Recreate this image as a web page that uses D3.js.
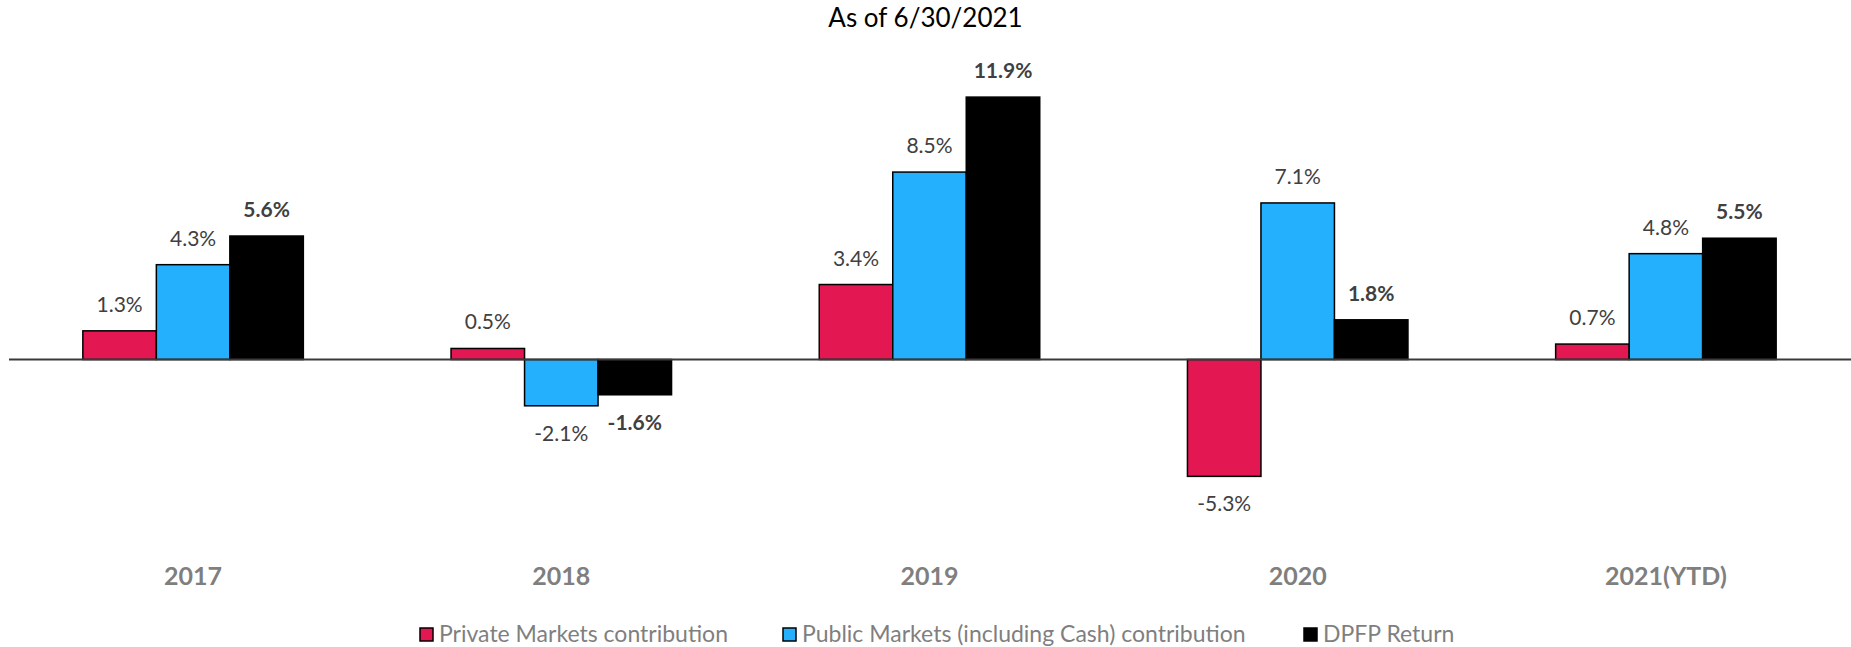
<!DOCTYPE html>
<html>
<head>
<meta charset="utf-8">
<script src="https://cdn.jsdelivr.net/npm/d3@7"></script>
<style>
  html, body { margin: 0; padding: 0; background: #fff; }
  svg { display: block; }
</style>
</head>
<body>
<svg id="chart" width="1851" height="647"></svg>
<script>
// Return contributions by year (percent)
const categories = ["2017", "2018", "2019", "2020", "2021(YTD)"];
const seriesNames = ["Private Markets contribution", "Public Markets (including Cash) contribution", "DPFP Return"];
const privateMarkets = [1.3, 0.5, 3.4, -5.3, 0.7];
const publicMarkets = [4.3, -2.1, 8.5, 7.1, 4.8];
const dpfpReturn = [5.6, -1.6, 11.9, 1.8, 5.5];
const titleText = "As of 6/30/2021";

const seriesValues = [privateMarkets, publicMarkets, dpfpReturn];
const colors = ["#E31752", "#25B0FD", "#000000"];
const boldLabel = [false, false, true];

const W = 1851, H = 647;
const svg = d3.select("#chart");

const x = d3.scaleBand().domain(categories).range([9, 1850]).paddingInner(0).paddingOuter(0);
const groupWidth = 220.5;
const xs = d3.scaleBand().domain(seriesNames).range([-groupWidth / 2, groupWidth / 2]).padding(0);
const y = d3.scaleLinear().domain([-8, 16]).range([359.5 + 8 * 22.05, 359.5 - 16 * 22.05]);

// title
svg.append("text")
  .attr("x", W / 2).attr("y", 27)
  .attr("text-anchor", "middle")
  .attr("font-family", "Lato, 'DejaVu Sans', sans-serif")
  .attr("font-size", 26)
  .attr("fill", "#000")
  .text(titleText);

// flatten data
const rows = [];
categories.forEach((c, i) => {
  seriesNames.forEach((s, j) => {
    rows.push({ cat: c, series: s, si: j, value: seriesValues[j][i] });
  });
});

const barCenter = d => x(d.cat) + x.bandwidth() / 2 + xs(d.series) + xs.bandwidth() / 2;

// bars
svg.append("g").selectAll("rect").data(rows).join("rect")
  .attr("x", d => x(d.cat) + x.bandwidth() / 2 + xs(d.series))
  .attr("width", xs.bandwidth())
  .attr("y", d => y(Math.max(0, d.value)))
  .attr("height", d => Math.abs(y(d.value) - y(0)))
  .attr("fill", d => colors[d.si])
  .attr("stroke", "#000")
  .attr("stroke-width", 1.5);

// zero line
svg.append("line")
  .attr("x1", 9).attr("x2", W)
  .attr("y1", y(0)).attr("y2", y(0))
  .attr("stroke", "#3a3a3a").attr("stroke-width", 2);

// value labels (plain hyphen for negatives)
svg.append("g").selectAll("text").data(rows).join("text")
  .attr("x", barCenter)
  .attr("y", d => d.value >= 0 ? y(d.value) - 19 : y(d.value) + 35)
  .attr("text-anchor", "middle")
  .attr("font-family", "Lato, 'DejaVu Sans', sans-serif")
  .attr("font-size", 21)
  .attr("font-weight", d => boldLabel[d.si] ? "bold" : "normal")
  .attr("fill", "#404040")
  .text(d => d.value.toFixed(1) + "%");

// category labels
svg.append("g").selectAll("text").data(categories).join("text")
  .attr("x", d => x(d) + x.bandwidth() / 2)
  .attr("y", 585)
  .attr("text-anchor", "middle")
  .attr("font-family", "Lato, 'DejaVu Sans', sans-serif")
  .attr("font-size", 25)
  .attr("font-weight", "bold")
  .attr("fill", "#7f7f7f")
  .text(d => d);

// legend
const legendX = [420, 783, 1304];
const legend = svg.append("g").selectAll("g").data(seriesNames).join("g")
  .attr("transform", (d, i) => `translate(${legendX[i]},628)`);
legend.append("rect")
  .attr("width", 13).attr("height", 13)
  .attr("fill", (d, i) => colors[i])
  .attr("stroke", "#000").attr("stroke-width", 1.5);
legend.append("text")
  .attr("x", 19).attr("y", 13.5)
  .attr("font-family", "Lato, 'DejaVu Sans', sans-serif")
  .attr("font-size", 23)
  .attr("fill", "#7f7f7f")
  .text(d => d);
</script>
</body>
</html>
